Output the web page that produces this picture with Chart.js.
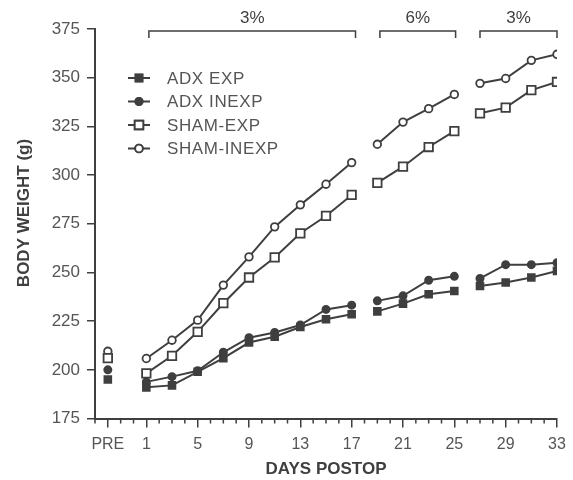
<!DOCTYPE html>
<html>
<head>
<meta charset="utf-8">
<script src="https://cdn.jsdelivr.net/npm/chart.js@4"></script>
<style>
  html, body { margin: 0; padding: 0; background: #fff; }
  canvas { display: block; }
</style>
</head>
<body>
<canvas id="myChart" width="573" height="480"></canvas>
<script>
// days of measurement (-2 = PRE)
const days = [-2, 1, 3, 5, 7, 9, 11, 13, 15, 17, 19, 21, 23, 25, 27, 29, 31, 33];
const breakAfter = [-2, 17, 25]; // line is broken after these days
const majorDays = [-2, 1, 5, 9, 13, 17, 21, 25, 29, 33];

// body weight (g)
const adxExp    = [195, 191, 192, 199, 206, 214, 217, 222, 226, 228.5, 230, 234, 238.8, 240.5, 243, 244.8, 247.4, 250.8];
const adxInexp  = [200, 193.8, 196.5, 199.5, 209, 216.5, 219.2, 223, 231, 233.2, 235.4, 238, 246, 248, 246.9, 254, 254, 255];
const shamExp   = [206, 198.2, 207.2, 219.5, 234.2, 247.4, 257.7, 270.1, 279, 289.8, 296, 304.3, 314.4, 322.6, 331.7, 334.6, 343.6, 347.8];
const shamInexp = [209.5, 205.8, 215.2, 225.5, 243.5, 258, 273.4, 284.7, 295.3, 306.4, 315.8, 327.2, 334.1, 341.4, 347.1, 349.6, 358.9, 362];

const seriesNames = ['ADX EXP', 'ADX INEXP', 'SHAM-EXP', 'SHAM-INEXP'];

// sugar concentration periods at the top
const periods = [
    { label: '3%', from: 1.2, to: 17.3 },
    { label: '6%', from: 19.2, to: 25.1 },
    { label: '3%', from: 27, to: 33 }
];

const ink = '#3f3f3f';
const textInk = '#555';

// turn a value list into points, with a null after each break day
function toPoints(values) {
    const pts = [];
    days.forEach((d, i) => {
        pts.push({ x: d, y: values[i] });
        if (breakAfter.includes(d)) pts.push({ x: d + 0.5, y: null });
    });
    return pts;
}

const markerStyles = [
    { pointStyle: 'rect', radius: 4.8, fill: ink },
    { pointStyle: 'circle', radius: 3.6, fill: ink },
    { pointStyle: 'rect', radius: 6, fill: '#fff' },
    { pointStyle: 'circle', radius: 3.8, fill: '#fff' }
];

const allValues = [adxExp, adxInexp, shamExp, shamInexp];

const datasets = allValues.map((vals, i) => ({
    label: seriesNames[i],
    data: toPoints(vals),
    borderColor: ink,
    borderWidth: 2,
    pointStyle: markerStyles[i].pointStyle,
    pointRadius: markerStyles[i].radius,
    pointBackgroundColor: markerStyles[i].fill,
    pointBorderColor: ink,
    pointBorderWidth: 1.8,
    spanGaps: false,
    tension: 0
}));

// draws minor ticks, the period brackets, legend and y title
const extrasPlugin = {
    id: 'extras',
    afterDraw(chart) {
        const c = chart.ctx;
        const xs = chart.scales.x;
        const ys = chart.scales.y;
        c.save();

        // minor day ticks
        c.strokeStyle = ink;
        c.lineWidth = 1.5;
        const axisY = ys.bottom;
        for (let d = -3; d <= 33; d++) {
            if (majorDays.includes(d)) continue;
            const px = xs.getPixelForValue(d);
            c.beginPath();
            c.moveTo(px, axisY);
            c.lineTo(px, axisY + 5);
            c.stroke();
        }

        // brackets
        c.font = '17px "Liberation Sans", Arial, sans-serif';
        c.fillStyle = ink;
        c.textAlign = 'center';
        c.textBaseline = 'middle';
        periods.forEach(p => {
            const x1 = xs.getPixelForValue(p.from);
            const x2 = xs.getPixelForValue(p.to);
            c.beginPath();
            c.moveTo(x1, 38);
            c.lineTo(x1, 31);
            c.lineTo(x2, 31);
            c.lineTo(x2, 38);
            c.stroke();
            c.fillText(p.label, (x1 + x2) / 2, 18);
        });

        // legend
        c.font = '17px "Liberation Sans", Arial, sans-serif';
        c.letterSpacing = '0.6px';
        c.textAlign = 'left';
        const rowsY = [78, 101.5, 125, 148.5];
        datasets.forEach((ds, i) => {
            const y = rowsY[i];
            c.strokeStyle = ink;
            c.lineWidth = 2;
            c.beginPath();
            c.moveTo(128, y);
            c.lineTo(150, y);
            c.stroke();
            Chart.helpers.drawPoint(c, {
                pointStyle: ds.pointStyle,
                radius: ds.pointRadius,
                borderWidth: ds.pointBorderWidth
            }, 139, y);
            c.fillStyle = ds.pointBackgroundColor;
            c.strokeStyle = ink;
            c.lineWidth = ds.pointBorderWidth;
            c.fill();
            c.stroke();
            c.fillStyle = textInk;
            c.fillText(ds.label, 167, y + 1);
        });
        c.letterSpacing = '0px';

        // y axis title
        c.translate(24, 213);
        c.rotate(-Math.PI / 2);
        c.font = 'bold 17px "Liberation Sans", Arial, sans-serif';
        c.fillStyle = ink;
        c.textAlign = 'center';
        c.fillText('BODY WEIGHT (g)', 0, 0);
        c.restore();
    }
};

const chart = new Chart(document.getElementById('myChart').getContext('2d'), {
    type: 'line',
    data: { datasets: datasets },
    options: {
        responsive: false,
        animation: false,
        layout: { padding: { top: 29, right: 16, left: 0, bottom: 0 } },
        plugins: {
            legend: { display: false },
            tooltip: { enabled: false }
        },
        scales: {
            x: {
                type: 'linear',
                min: -3,
                max: 33,
                afterBuildTicks: (scale) => {
                    scale.ticks = majorDays.map(v => ({ value: v }));
                },
                afterFit: (scale) => { scale.height = 61.5; },
                border: { color: ink, width: 2 },
                grid: { drawOnChartArea: false, drawTicks: true, tickLength: 9, color: ink, lineWidth: 1.5 },
                ticks: {
                    autoSkip: false,
                    maxRotation: 0,
                    padding: 7,
                    color: textInk,
                    font: { family: '"Liberation Sans", Arial, sans-serif', size: 16 },
                    callback: (v) => v === -2 ? 'PRE' : v
                },
                title: {
                    display: true,
                    text: 'DAYS POSTOP',
                    color: ink,
                    padding: { top: 0, bottom: 0 },
                    font: { family: '"Liberation Sans", Arial, sans-serif', size: 17, weight: 'bold' }
                }
            },
            y: {
                min: 175,
                max: 375,
                afterFit: (scale) => { scale.width = 95; },
                border: { color: ink, width: 2 },
                grid: { drawOnChartArea: false, drawTicks: true, tickLength: 8, color: ink, lineWidth: 1.5 },
                ticks: {
                    stepSize: 25,
                    padding: 7,
                    color: textInk,
                    font: { family: '"Liberation Sans", Arial, sans-serif', size: 17 }
                }
            }
        }
    },
    plugins: [extrasPlugin]
});
</script>
</body>
</html>
